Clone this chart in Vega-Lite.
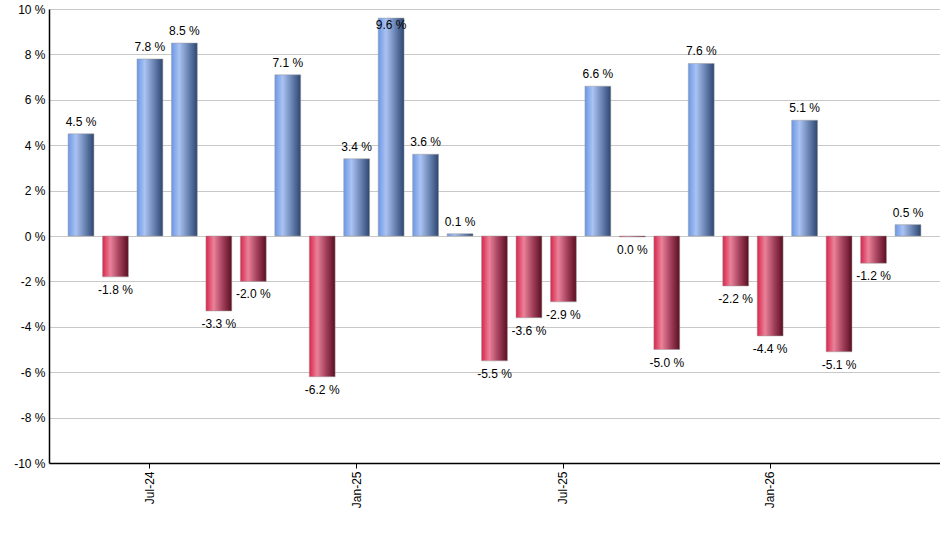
{
  "$schema": "https://vega.github.io/schema/vega-lite/v6.json",
  "width": 891,
  "height": 454,
  "autosize": "none",
  "padding": {"left": 49, "top": 9, "right": 0, "bottom": 87},
  "background": "#ffffff",
  "config": {
    "view": {"stroke": null},
    "font": "Liberation Sans"
  },
  "data": {
    "values": [
      {"month": "May-24", "ret": 4.5, "label": "4.5 %"},
      {"month": "Jun-24", "ret": -1.8, "label": "-1.8 %"},
      {"month": "Jul-24", "ret": 7.8, "label": "7.8 %"},
      {"month": "Aug-24", "ret": 8.5, "label": "8.5 %"},
      {"month": "Sep-24", "ret": -3.3, "label": "-3.3 %"},
      {"month": "Oct-24", "ret": -2.0, "label": "-2.0 %"},
      {"month": "Nov-24", "ret": 7.1, "label": "7.1 %"},
      {"month": "Dec-24", "ret": -6.2, "label": "-6.2 %"},
      {"month": "Jan-25", "ret": 3.4, "label": "3.4 %"},
      {"month": "Feb-25", "ret": 9.6, "label": "9.6 %"},
      {"month": "Mar-25", "ret": 3.6, "label": "3.6 %"},
      {"month": "Apr-25", "ret": 0.1, "label": "0.1 %"},
      {"month": "May-25", "ret": -5.5, "label": "-5.5 %"},
      {"month": "Jun-25", "ret": -3.6, "label": "-3.6 %"},
      {"month": "Jul-25", "ret": -2.9, "label": "-2.9 %"},
      {"month": "Aug-25", "ret": 6.6, "label": "6.6 %"},
      {"month": "Sep-25", "ret": -0.04, "label": "0.0 %"},
      {"month": "Oct-25", "ret": -5.0, "label": "-5.0 %"},
      {"month": "Nov-25", "ret": 7.6, "label": "7.6 %"},
      {"month": "Dec-25", "ret": -2.2, "label": "-2.2 %"},
      {"month": "Jan-26", "ret": -4.4, "label": "-4.4 %"},
      {"month": "Feb-26", "ret": 5.1, "label": "5.1 %"},
      {"month": "Mar-26", "ret": -5.1, "label": "-5.1 %"},
      {"month": "Apr-26", "ret": -1.2, "label": "-1.2 %"},
      {"month": "May-26", "ret": 0.5, "label": "0.5 %"}
    ]
  },
  "encoding": {
    "x": {
      "field": "month",
      "type": "nominal",
      "title": null,
      "scale": {
        "domain": ["May-24", "Jun-24", "Jul-24", "Aug-24", "Sep-24", "Oct-24", "Nov-24", "Dec-24", "Jan-25", "Feb-25", "Mar-25", "Apr-25", "May-25", "Jun-25", "Jul-25", "Aug-25", "Sep-25", "Oct-25", "Nov-25", "Dec-25", "Jan-26", "Feb-26", "Mar-26", "Apr-26", "May-26"],
        "paddingInner": 0.25,
        "paddingOuter": 0.554
      },
      "axis": {
        "values": ["Jul-24", "Jan-25", "Jul-25", "Jan-26"],
        "labelAngle": -90,
        "labelAlign": "right",
        "labelBaseline": "middle",
        "labelFontSize": 12,
        "labelColor": "#000000",
        "domainColor": "#000000",
        "domainWidth": 1.5,
        "tickColor": "#000000",
        "tickSize": 5,
        "labelPadding": 3
      }
    },
    "y": {
      "field": "ret",
      "type": "quantitative",
      "title": null,
      "scale": {"domain": [-10, 10], "nice": false},
      "axis": {
        "values": [-10, -8, -6, -4, -2, 0, 2, 4, 6, 8, 10],
        "labelExpr": "datum.value + ' %'",
        "labelFontSize": 12,
        "labelColor": "#000000",
        "domainColor": "#000000",
        "domainWidth": 1.5,
        "ticks": false,
        "labelPadding": 4,
        "gridColor": "#c8c8c8",
        "gridWidth": 1
      }
    }
  },
  "layer": [
    {
      "transform": [{"filter": "datum.ret >= 0"}],
      "mark": {
        "type": "bar",
        "stroke": "#9a9a9a",
        "strokeWidth": 0.5,
        "color": {
          "gradient": "linear",
          "x1": 0, "x2": 1, "y1": 0, "y2": 0,
          "stops": [
            {"offset": 0, "color": "#6b97e6"},
            {"offset": 0.3, "color": "#aac3f2"},
            {"offset": 0.65, "color": "#6a84b4"},
            {"offset": 1, "color": "#2d4670"}
          ]
        }
      },
      "encoding": {"y2": {"datum": 0}}
    },
    {
      "transform": [{"filter": "datum.ret < 0"}],
      "mark": {
        "type": "bar",
        "stroke": "#9a9a9a",
        "strokeWidth": 0.5,
        "color": {
          "gradient": "linear",
          "x1": 0, "x2": 1, "y1": 0, "y2": 0,
          "stops": [
            {"offset": 0, "color": "#d9254c"},
            {"offset": 0.3, "color": "#ea8299"},
            {"offset": 0.65, "color": "#a3405c"},
            {"offset": 1, "color": "#5a0e20"}
          ]
        }
      },
      "encoding": {"y2": {"datum": 0}}
    },
    {
      "transform": [{"filter": "datum.ret >= 0 && datum.ret < 9"}],
      "mark": {"type": "text", "baseline": "bottom", "dy": -5, "fontSize": 12, "color": "#000000"},
      "encoding": {"text": {"field": "label", "type": "nominal"}}
    },
    {
      "transform": [{"filter": "datum.ret >= 9"}],
      "mark": {"type": "text", "baseline": "top", "dy": 2, "fontSize": 12, "color": "#000000"},
      "encoding": {"text": {"field": "label", "type": "nominal"}}
    },
    {
      "transform": [{"filter": "datum.ret < 0"}],
      "mark": {"type": "text", "baseline": "top", "dy": 8, "fontSize": 12, "color": "#000000"},
      "encoding": {"text": {"field": "label", "type": "nominal"}}
    }
  ]
}
